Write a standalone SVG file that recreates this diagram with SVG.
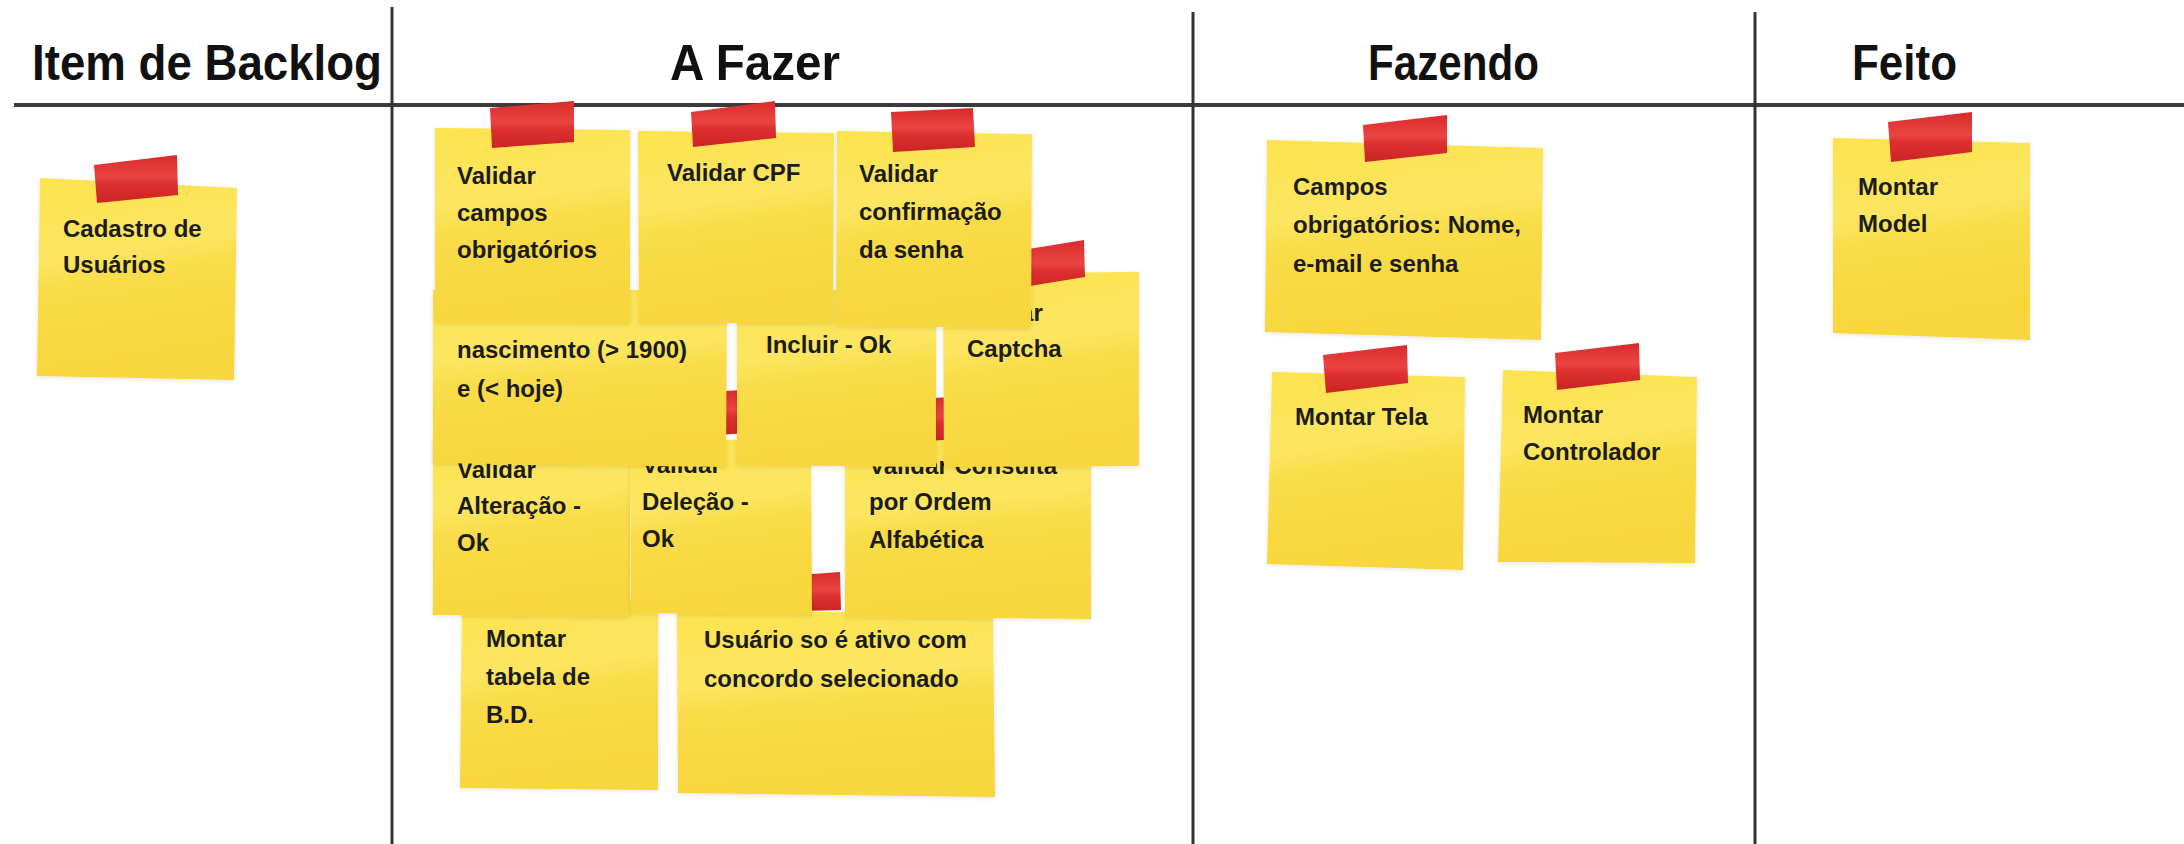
<svg xmlns="http://www.w3.org/2000/svg" width="2184" height="844" viewBox="0 0 2184 844">
<defs>
<linearGradient id="paper" x1="0" y1="0" x2="0.15" y2="1">
<stop offset="0" stop-color="#FCE34E"/>
<stop offset="0.4" stop-color="#FCE661"/>
<stop offset="0.55" stop-color="#F9DC48"/>
<stop offset="1" stop-color="#F8D63C"/>
</linearGradient>
<linearGradient id="tape" x1="0" y1="0" x2="0" y2="1">
<stop offset="0" stop-color="#D92B2B"/>
<stop offset="0.45" stop-color="#EA4542"/>
<stop offset="0.6" stop-color="#DE3030"/>
<stop offset="1" stop-color="#C92424"/>
</linearGradient>
<filter id="sh" x="-5%" y="-5%" width="110%" height="110%">
<feDropShadow dx="0" dy="1" stdDeviation="2" flood-color="#000" flood-opacity="0.12"/>
</filter>
</defs>
<style>
.paper{fill:url(#paper);filter:url(#sh)}
.tape{fill:url(#tape)}
.t{font-family:"Liberation Sans",Arial,sans-serif;font-weight:bold;font-size:24px;fill:#1c1c1c}
.h{font-family:"Liberation Sans",Arial,sans-serif;font-weight:bold;font-size:50px;fill:#111}
.ln{stroke:#333;stroke-width:3;fill:none}
.hl{stroke:#3a3a3a;stroke-width:4;fill:none}
</style>
<rect width="2184" height="844" fill="#fff"/>
<g id="board">
<line class="hl" x1="14" y1="105" x2="2184" y2="105"/>
<line class="ln" x1="392" y1="7" x2="392" y2="844"/>
<line class="ln" x1="1193" y1="12" x2="1193" y2="844"/>
<line class="ln" x1="1755" y1="12" x2="1755" y2="844"/>
<text class="h" x="32" y="80" textLength="350" lengthAdjust="spacingAndGlyphs">Item de Backlog</text>
<text class="h" x="670" y="80" textLength="170" lengthAdjust="spacingAndGlyphs">A Fazer</text>
<text class="h" x="1368" y="80" textLength="171" lengthAdjust="spacingAndGlyphs">Fazendo</text>
<text class="h" x="1852" y="80" textLength="105" lengthAdjust="spacingAndGlyphs">Feito</text>
</g>
<g id="connectors"/>
<g id="note-cadastro">
<polygon class="paper" points="40,178 237,188 234,380 37,376"/>
<polygon class="tape" points="94,165 177,155 178,195 97,203"/>
<text class="t"><tspan x="63" y="237">Cadastro de</tspan><tspan x="63" y="273">Usuários</tspan></text>
</g>
<g id="note-tabela">
<polygon class="paper" points="462,600 658,600 658,790 460,788"/>
<text class="t"><tspan x="486" y="647">Montar</tspan><tspan x="486" y="685">tabela de</tspan><tspan x="486" y="723">B.D.</tspan></text>
</g>
<g id="note-usuario">
<polygon class="paper" points="677,612 993,612 995,797 678,793"/>
<polygon class="tape" points="758,578 840,572 841,610 760,612"/>
<text class="t"><tspan x="704" y="648">Usuário so é ativo com</tspan><tspan x="704" y="687">concordo selecionado</tspan></text>
</g>
<g id="note-alteracao">
<polygon class="paper" points="433,440 630,440 630,617 433,615"/>
<text class="t"><tspan x="457" y="478">Validar</tspan><tspan x="457" y="514">Alteração -</tspan><tspan x="457" y="551">Ok</tspan></text>
</g>
<g id="note-delecao">
<polygon class="paper" points="630,440 811,440 812,615 631,613"/>
<polygon class="tape" points="690,393 775,388 776,432 692,436"/>
<text class="t"><tspan x="642" y="473">Validar</tspan><tspan x="642" y="510">Deleção -</tspan><tspan x="642" y="547">Ok</tspan></text>
</g>
<g id="note-consulta">
<polygon class="paper" points="845,440 1091,440 1091,619 845,617"/>
<polygon class="tape" points="900,400 985,395 986,438 902,442"/>
<text class="t"><tspan x="869" y="474">Validar Consulta</tspan><tspan x="869" y="510">por Ordem</tspan><tspan x="869" y="548">Alfabética</tspan></text>
</g>
<g id="note-nascimento">
<polygon class="paper" points="433,290 727,290 726,467 433,463"/>
<text class="t"><tspan x="457" y="358">nascimento (&gt; 1900)</tspan><tspan x="457" y="397">e (&lt; hoje)</tspan></text>
</g>
<g id="note-incluir">
<polygon class="paper" points="737,290 936,290 936,467 737,465"/>
<text class="t"><tspan x="766" y="353">Incluir - Ok</tspan></text>
</g>
<g id="note-captcha">
<polygon class="paper" points="943,273 1139,272 1139,466 944,467"/>
<polygon class="tape" points="997,254 1084,240 1085,277 999,291"/>
<text class="t"><tspan x="964" y="321">Validar</tspan><tspan x="967" y="357">Captcha</tspan></text>
</g>
<g id="note-campos">
<polygon class="paper" points="435,128 630,130 630,323 435,322"/>
<polygon class="tape" points="490,108 574,101 574,142 492,148"/>
<text class="t"><tspan x="457" y="184">Validar</tspan><tspan x="457" y="221">campos</tspan><tspan x="457" y="258">obrigatórios</tspan></text>
</g>
<g id="note-cpf">
<polygon class="paper" points="638,131 834,133 833,323 639,323"/>
<polygon class="tape" points="691,112 775,101 776,138 693,147"/>
<text class="t"><tspan x="667" y="181">Validar CPF</tspan></text>
</g>
<g id="note-confirmacao">
<polygon class="paper" points="837,131 1032,134 1031,328 836,326"/>
<polygon class="tape" points="891,112 973,108 975,147 893,152"/>
<text class="t"><tspan x="859" y="182">Validar</tspan><tspan x="859" y="220">confirmação</tspan><tspan x="859" y="258">da senha</tspan></text>
</g>
<g id="note-campos-obrigatorios">
<polygon class="paper" points="1267,140 1543,148 1541,340 1265,332"/>
<polygon class="tape" points="1363,125 1447,115 1447,153 1365,162"/>
<text class="t"><tspan x="1293" y="195">Campos</tspan><tspan x="1293" y="233">obrigatórios: Nome,</tspan><tspan x="1293" y="272">e-mail e senha</tspan></text>
</g>
<g id="note-tela">
<polygon class="paper" points="1272,372 1465,377 1463,570 1267,564"/>
<polygon class="tape" points="1323,355 1407,345 1408,383 1326,393"/>
<text class="t"><tspan x="1295" y="425">Montar Tela</tspan></text>
</g>
<g id="note-controlador">
<polygon class="paper" points="1503,370 1697,377 1695,563 1498,562"/>
<polygon class="tape" points="1555,353 1639,343 1640,380 1557,390"/>
<text class="t"><tspan x="1523" y="423">Montar</tspan><tspan x="1523" y="460">Controlador</tspan></text>
</g>
<g id="note-model">
<polygon class="paper" points="1833,138 2030,143 2030,340 1833,333"/>
<polygon class="tape" points="1888,122 1972,112 1972,152 1891,162"/>
<text class="t"><tspan x="1858" y="195">Montar</tspan><tspan x="1858" y="232">Model</tspan></text>
</g>
</svg>
